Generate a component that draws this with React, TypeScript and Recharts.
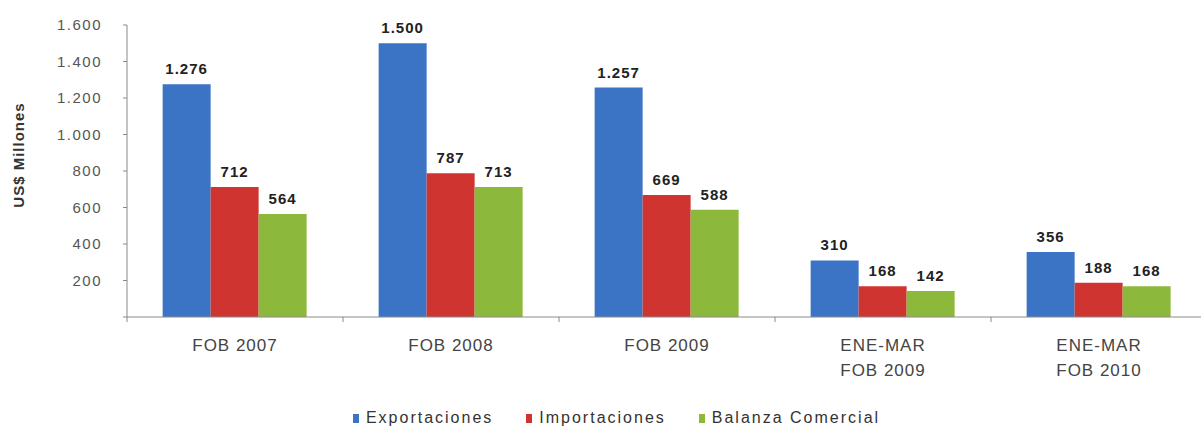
import { Bar, BarChart, LabelList, Legend, XAxis, YAxis } from "recharts";

const CATEGORIES = ["FOB 2007", "FOB 2008", "FOB 2009", "ENE-MAR\nFOB 2009", "ENE-MAR\nFOB 2010"];
const EXPORTACIONES = [1276, 1500, 1257, 310, 356];
const IMPORTACIONES = [712, 787, 669, 168, 188];
const BALANZA = [564, 713, 588, 142, 168];
const Y_TICKS = [0, 200, 400, 600, 800, 1000, 1200, 1400, 1600];
const SERIES = [
  { key: "exp", name: "Exportaciones", color: "#3b74c4" },
  { key: "imp", name: "Importaciones", color: "#cf3431" },
  { key: "bal", name: "Balanza Comercial", color: "#8cb83c" },
];

const AXIS = "#8a8a8a";
const FONT = "Liberation Sans, Arial, sans-serif";

const data = CATEGORIES.map((c, i) => ({
  cat: c,
  exp: EXPORTACIONES[i],
  imp: IMPORTACIONES[i],
  bal: BALANZA[i],
}));

function miles(v: number): string {
  return String(v).replace(/\B(?=(\d{3})+(?!\d))/g, ".");
}

// plot runs a bit past the right edge, as in the original crop
const PLOT_W = 1207 - 127;
const BAND = PLOT_W / CATEGORIES.length;

function XTick({ x, y, payload }: any) {
  const lines = String(payload.value).split("\n");
  return (
    <g>
      <line x1={x - BAND / 2} x2={x - BAND / 2} y1={y - 8} y2={y - 3} stroke={AXIS} />
      {lines.map((l, i) => (
        <text
          key={i}
          x={x}
          y={y + 26 + i * 25}
          textAnchor="middle"
          fontSize={17}
          letterSpacing={1}
          fill="#444"
          fontFamily={FONT}
        >
          {l}
        </text>
      ))}
    </g>
  );
}

function LegendBox() {
  return (
    <div
      style={{
        display: "flex",
        justifyContent: "center",
        gap: 33,
        fontSize: 16,
        letterSpacing: 2,
        fontFamily: FONT,
        color: "#333",
        paddingRight: 14,
      }}
    >
      {SERIES.map((s) => (
        <span key={s.key} style={{ display: "flex", alignItems: "center" }}>
          <span style={{ width: 6, height: 9, background: s.color, marginRight: 7 }} />
          {s.name}
        </span>
      ))}
    </div>
  );
}

export default function App() {
  return (
    <div style={{ width: 1201, height: 430, background: "#fff", overflow: "hidden" }}>
      <style>{"body{margin:0}"}</style>
      <BarChart
        width={1201}
        height={430}
        data={data}
        margin={{ top: 25, right: -6, bottom: 3, left: 40 }}
        barCategoryGap="16.5%"
        barGap={0}
      >
        <XAxis
          dataKey="cat"
          stroke={AXIS}
          tickLine={false}
          tick={<XTick />}
          interval={0}
          height={92}
        />
        <YAxis
          domain={[0, 1600]}
          ticks={Y_TICKS}
          stroke={AXIS}
          tickSize={4}
          width={87}
          tick={(p: any) =>
            p.payload.value === 0 ? (
              <g />
            ) : (
              <text
                x={p.x - 19}
                y={p.y + 5}
                textAnchor="end"
                fontSize={15}
                letterSpacing={1.5}
                fill="#555"
                fontFamily={FONT}
              >
                {miles(p.payload.value)}
              </text>
            )
          }
          label={() => (
            <text
              x={24}
              y={155}
              transform="rotate(-90 24 155)"
              textAnchor="middle"
              fontSize={15}
              fontWeight="bold"
              letterSpacing={1}
              fill="#333"
              fontFamily={FONT}
            >
              US$ Millones
            </text>
          )}
        />
        <Legend verticalAlign="bottom" content={<LegendBox />} />
        {SERIES.map((s) => (
          <Bar key={s.key} dataKey={s.key} name={s.name} fill={s.color} isAnimationActive={false}>
            <LabelList
              dataKey={s.key}
              position="top"
              formatter={(v: number) => miles(v)}
              style={{ fontSize: 15, fontWeight: "bold", fill: "#222", fontFamily: FONT, letterSpacing: 1 }}
              offset={10}
            />
          </Bar>
        ))}
      </BarChart>
    </div>
  );
}
